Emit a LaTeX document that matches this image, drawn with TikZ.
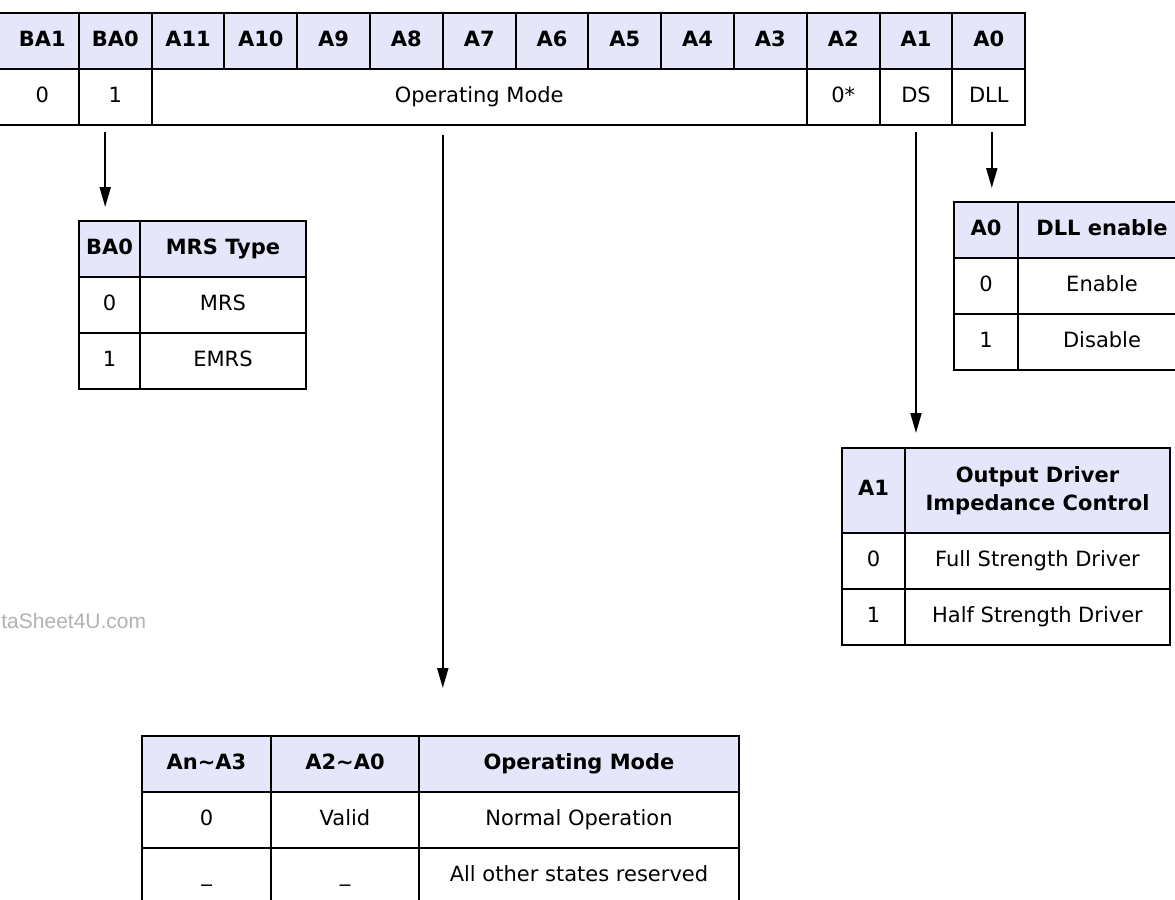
\documentclass[tikz,border=0pt]{standalone}
\usepackage{fontspec}
\setmainfont{DejaVu Sans}
\newfontfamily\wmfont{Liberation Sans}
\usepackage{tikz}
\usetikzlibrary{positioning}
\usetikzlibrary{arrows.meta}

\definecolor{headfill}{RGB}{230,230,250}
\newcommand\cellfont{\fontsize{10.5pt}{14pt}\selectfont}

\tikzset{
  cell/.style={draw, line width=1pt, inner sep=0pt, outer sep=0pt,
               minimum width=36.4pt, minimum height=28pt, font=\cellfont,
               text height=7.8pt, text depth=2.4pt},
  head/.style={cell, fill=headfill, font=\cellfont\bfseries},
  link/.style={->, line width=1pt},
}

\begin{document}
\begin{tikzpicture}[x=0.5pt,y=-0.5pt,>={Triangle[length=10pt,width=5.5pt]}]
  \useasboundingbox (0,0) rectangle (1175,900);
  \clip (0,0) rectangle (1175,900);

  \node[head,minimum width=42pt,anchor=east] (h0) at (78.8,41) {\hspace*{5.6pt}BA1};
  \foreach \lbl [count=\i] in {BA0,A11,A10,A9,A8,A7,A6,A5,A4,A3,A2,A1,A0}
    \node[head] (h\i) at (42.4+72.8*\i,41) {\lbl};
  \node[cell,minimum width=42pt,anchor=east] (v0) at (78.8,97) {\hspace*{5.6pt}0};
  \node[cell,below=0pt of h1]  (v1)  {1};
  \node[cell,minimum width=327.6pt] (opcell) at (479.2,97) {Operating Mode};
  \node[cell,below=0pt of h11] (v11) {0*};
  \node[cell,below=0pt of h12] (v12) {DS};
  \node[cell,below=0pt of h13] (v13) {DLL};

  \node[head,minimum width=30.5pt]                       (mrsA)  at (109.5,249) {BA0};
  \node[head,minimum width=83pt,right=0pt of mrsA]       (mrsB)  {MRS Type};
  \node[cell,minimum width=30.5pt,below=0pt of mrsA]     (mrsA1) {0};
  \node[cell,minimum width=83pt,below=0pt of mrsB]       (mrsB1) {MRS};
  \node[cell,minimum width=30.5pt,below=0pt of mrsA1]    (mrsA2) {1};
  \node[cell,minimum width=83pt,below=0pt of mrsB1]      (mrsB2) {EMRS};

  \node[head,minimum width=32pt]                         (dllA)  at (986,230) {A0};
  \node[head,minimum width=84pt,right=0pt of dllA]       (dllB)  {DLL enable};
  \node[cell,minimum width=32pt,below=0pt of dllA]       (dllA1) {0};
  \node[cell,minimum width=84pt,below=0pt of dllB]       (dllB1) {Enable};
  \node[cell,minimum width=32pt,below=0pt of dllA1]      (dllA2) {1};
  \node[cell,minimum width=84pt,below=0pt of dllB1]      (dllB2) {Disable};

  \node[head,minimum width=31.5pt,minimum height=42.5pt] (drvA)  at (873.5,490.5) {A1};
  \node[head,minimum width=132.5pt,minimum height=42.5pt,text height={},text depth={},
        align=center,right=0pt of drvA]                  (drvB)  {Output Driver\\Impedance Control};
  \node[cell,minimum width=31.5pt,below=0pt of drvA]     (drvA1) {0};
  \node[cell,minimum width=132.5pt,below=0pt of drvB]    (drvB1) {Full Strength Driver};
  \node[cell,minimum width=31.5pt,below=0pt of drvA1]    (drvA2) {1};
  \node[cell,minimum width=132.5pt,below=0pt of drvB1]   (drvB2) {Half Strength Driver};

  \node[head,minimum width=64.5pt]                       (modeA)  at (206.5,764) {An\textasciitilde A3};
  \node[head,minimum width=74pt,right=0pt of modeA]      (modeB)  {A2\textasciitilde A0};
  \node[head,minimum width=160pt,right=0pt of modeB]     (modeC)  {Operating Mode};
  \node[cell,minimum width=64.5pt,below=0pt of modeA]    (modeA1) {0};
  \node[cell,minimum width=74pt,below=0pt of modeB]      (modeB1) {Valid};
  \node[cell,minimum width=160pt,below=0pt of modeC]     (modeC1) {Normal Operation};
  \node[cell,minimum width=64.5pt,below=0pt of modeA1]   (modeA2) {\_};
  \node[cell,minimum width=74pt,below=0pt of modeB1]     (modeB2) {\_};
  \node[cell,minimum width=160pt,below=0pt of modeC1]    (modeC2) {All other states reserved};

  \node[anchor=base west,inner sep=0pt,text=gray!60,font=\wmfont\fontsize{10.5pt}{13pt}\selectfont]
       (wm) at (1,628) {taSheet4U.com};

  \draw[link,shorten <=3.5pt,shorten >=7pt]  ([xshift=-5pt]v1.south) -- ([xshift=-5pt]v1.south |- mrsA.north);
  \draw[link,shorten <=5pt,shorten >=24pt]   (h6.west |- opcell.south) -- (h6.west |- modeA.north);
  \draw[link,shorten <=3.5pt,shorten >=7.5pt] (v12.south) -- (v12.south |- drvA.north);
  \draw[link,shorten <=3.5pt,shorten >=7pt]  ([xshift=1.5pt]v13.south) -- ([xshift=1.5pt]v13.south |- dllA.north);
\end{tikzpicture}
\end{document}
